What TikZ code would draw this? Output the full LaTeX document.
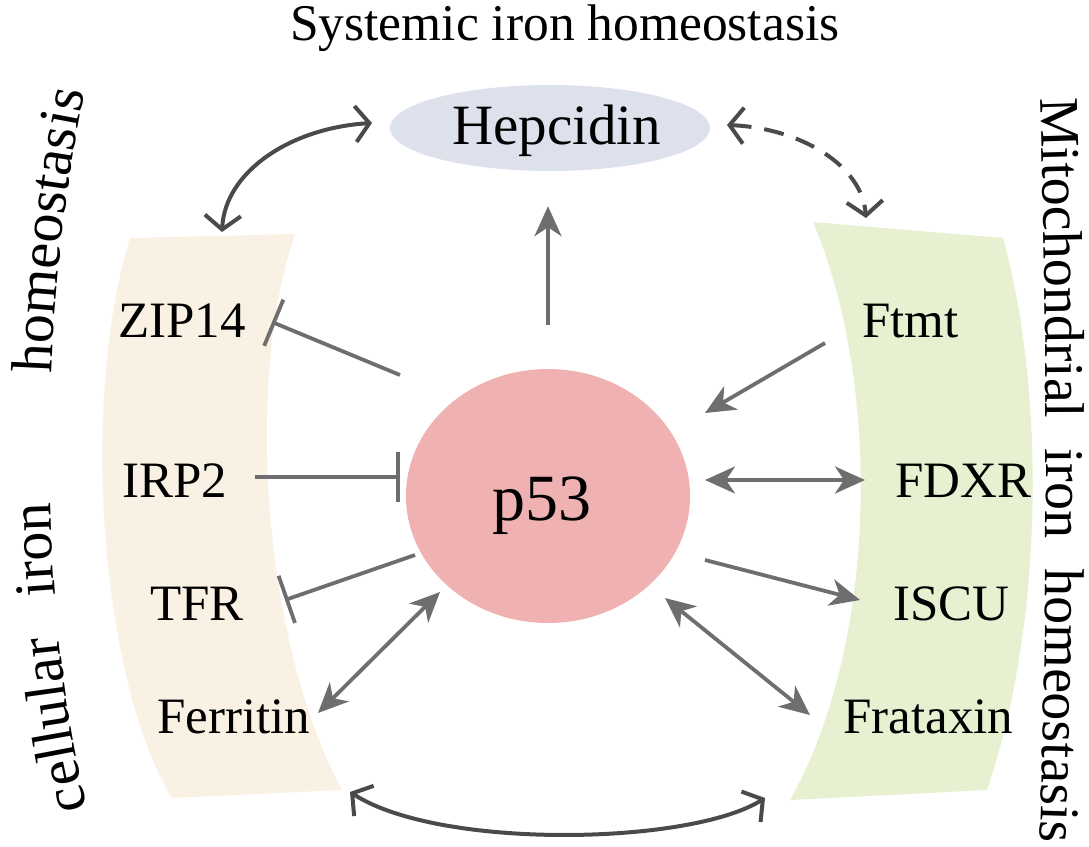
\documentclass[tikz,border=0pt]{standalone}
\usepackage{fontspec}
\setmainfont{Liberation Serif}
\usetikzlibrary{arrows.meta,decorations.text,shapes.geometric}
\definecolor{cellband}{HTML}{F9F1E4}
\definecolor{mitoband}{HTML}{E7F1D1}
\definecolor{hepfill}{HTML}{DDE1EC}
\definecolor{pfill}{HTML}{EFB1B1}
\definecolor{arrgray}{HTML}{6E6E6E}
\definecolor{curvegray}{HTML}{4A4A4A}
\newcommand{\sidelabelfont}{\fontsize{56}{60}\selectfont}
\newcommand{\leftlabelfont}{\fontsize{58}{60}\selectfont}
\begin{document}
\begin{tikzpicture}[x=1pt,y=-1pt,
  lbl/.style={inner sep=0pt, anchor=base west, font=\fontsize{51}{60}\selectfont},
  act/.style={draw=arrgray, line width=3.8pt, -{Stealth[length=30pt,width=27pt,inset=9pt]}},
  both/.style={draw=arrgray, line width=3.8pt, {Stealth[length=30pt,width=27pt,inset=9pt]}-{Stealth[length=30pt,width=27pt,inset=9pt]}},
  inh/.style={draw=arrgray, line width=3.8pt, -{Bar[width=50pt]}},
  curv/.style={draw=curvegray, line width=4pt, {Straight Barb[length=14pt,width=36pt]}-{Straight Barb[length=14pt,width=36pt]}},
  leftword/.style={decorate, decoration={text along path, text={|\leftlabelfont|#1}}},
]
\useasboundingbox (0,0) rectangle (1089,846);

% bands
\fill[cellband] (130,238) -- (295,234) .. controls (245,380) and (262,640) .. (342,790)
  -- (172,798) .. controls (100,680) and (80,400) .. (130,238) -- cycle;
\fill[mitoband] (813,222) -- (1003,238) .. controls (1045,390) and (1045,620) .. (987,790)
  -- (790,800) .. controls (880,640) and (880,380) .. (813,222) -- cycle;

% side labels
\path[decorate, decoration={text along path, text={|\leftlabelfont|cellular},
  text align={left, left indent=0pt}}]
  (88,808) .. controls (40,620) and (35,330) .. (85,92);
\path[decorate, decoration={text along path, text={|\leftlabelfont|iron},
  text align={left, left indent=215pt}}]
  (88,808) .. controls (40,620) and (35,330) .. (85,92);
\path[decorate, decoration={text along path, text={|\leftlabelfont|homeostasis},
  text align={right, right indent=0pt}}]
  (88,808) .. controls (40,620) and (35,330) .. (85,92);
\path[decorate, decoration={text along path, text={|\sidelabelfont|Mitochondrial iron homeostasis},
  text align=fit to path stretching spaces}]
  (1040,98) .. controls (1048,330) and (1048,610) .. (1040,842);

% title
\node[lbl, font=\fontsize{51.5}{60}\selectfont] (title) at (290,40) {Systemic iron homeostasis};

% ellipses
\node[ellipse, fill=hepfill, minimum width=320pt, minimum height=86pt, inner sep=0pt] (hep) at (550,128) {};
\node[lbl, font=\fontsize{57}{60}\selectfont] (heptxt) at (452,144) {Hepcidin};
\node[ellipse, fill=pfill, minimum width=284pt, minimum height=254pt, inner sep=0pt] (p53) at (548,496) {};
\node[lbl, font=\fontsize{66}{70}\selectfont] (p53txt) at (492,520) {p53};

% labels
\node[lbl] (zip) at (118,337) {ZIP14};
\node[lbl] (irp) at (122,497) {IRP2};
\node[lbl] (tfr) at (150,620) {TFR};
\node[lbl] (fer) at (157,733) {Ferritin};
\node[lbl] (ftmt) at (862,337) {Ftmt};
\node[lbl] (fdxr) at (895,497) {FDXR};
\node[lbl] (iscu) at (893,620) {ISCU};
\node[lbl] (frat) at (843,733) {Frataxin};

% connector ends
\coordinate (zipA) at (400,375);  \coordinate (zipB) at (272,322);
\coordinate (irpA) at (255,477);  \coordinate (irpB) at (400,477);
\coordinate (tfrA) at (415,555);  \coordinate (tfrB) at (285,600);
\coordinate (ferA) at (440,592);  \coordinate (ferB) at (318,713);
\coordinate (ftA) at (825,343);   \coordinate (ftB) at (705,413);
\coordinate (fdA) at (705,480);   \coordinate (fdB) at (865,480);
\coordinate (isA) at (705,560);   \coordinate (isB) at (860,600);
\coordinate (frA) at (665,598);   \coordinate (frB) at (810,715);
\coordinate (cellTop) at (222,232); \coordinate (hepL) at (372,123);
\coordinate (hepR) at (727,125);  \coordinate (mitoTop) at (866,218);
\coordinate (cellBot) at (350,792); \coordinate (mitoBot) at (765,798);

% straight connectors
\draw[act, shorten <=44pt, shorten >=35pt] (p53.north) -- (p53.north |- hep.south);
\draw[inh] (zipA) -- (zipB);
\draw[inh] (irpA) -- (irpB);
\draw[inh] (tfrA) -- (tfrB);
\draw[both] (ferA) -- (ferB);
\draw[act] (ftA) -- (ftB);
\draw[both] (fdA) -- (fdB);
\draw[act] (isA) -- (isB);
\draw[both] (frA) -- (frB);

% curved connectors
\draw[curv] (cellTop) .. controls (225,172) and (290,128) .. (hepL);
\draw[curv, dash pattern=on 20pt off 13pt] (hepR) .. controls (800,128) and (862,165) .. (mitoTop);
\draw[curv] (cellBot) .. controls (440,850) and (690,845) .. (mitoBot);
\end{tikzpicture}
\end{document}
